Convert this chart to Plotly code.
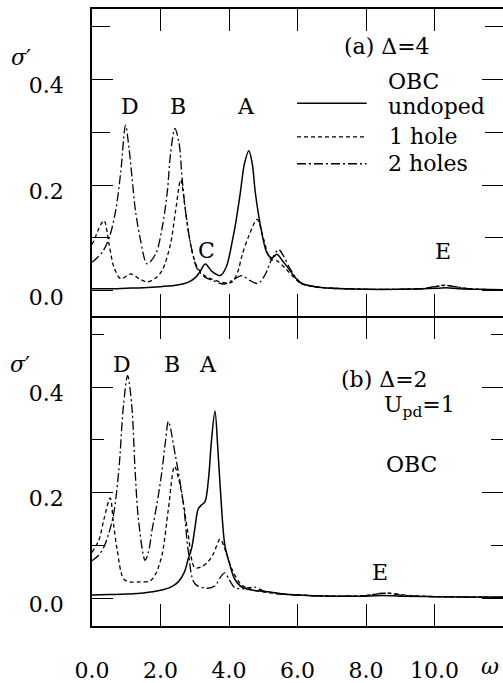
import plotly.graph_objects as go

# ---------------- data ----------------
# panel (a): Delta = 4
a_undoped_x = [0.0, 0.5, 1.0, 1.5, 2.0, 2.5, 2.8, 3.0, 3.15, 3.31, 3.5, 3.75, 3.92, 4.09, 4.2, 4.33, 4.45, 4.58, 4.68, 4.77, 4.92, 5.1, 5.25, 5.4, 5.55, 5.74, 5.95, 6.13, 6.5, 7.0, 8.0, 9.0, 9.7, 10.1, 10.35, 10.7, 11.2, 12.0]
a_undoped_y = [0.004, 0.004, 0.005, 0.006, 0.008, 0.011, 0.016, 0.024, 0.036, 0.051, 0.037, 0.029, 0.045, 0.092, 0.13, 0.185, 0.24, 0.265, 0.24, 0.185, 0.123, 0.073, 0.062, 0.069, 0.058, 0.042, 0.024, 0.014, 0.008, 0.005, 0.003, 0.003, 0.004, 0.005, 0.006, 0.004, 0.003, 0.002]

a_1hole_x = [0.0, 0.06, 0.2, 0.35, 0.5, 0.64, 0.84, 1.13, 1.4, 1.61, 1.85, 2.05, 2.29, 2.44, 2.59, 2.73, 2.88, 3.07, 3.3, 3.51, 3.9, 4.09, 4.25, 4.38, 4.58, 4.82, 5.01, 5.21, 5.4, 5.65, 5.9, 6.1, 6.5, 7.0, 8.0, 9.0, 9.6, 10.0, 10.3, 10.6, 11.0, 12.0]
a_1hole_y = [0.088, 0.095, 0.118, 0.133, 0.088, 0.045, 0.023, 0.032, 0.022, 0.017, 0.024, 0.039, 0.088, 0.151, 0.21, 0.151, 0.088, 0.045, 0.028, 0.022, 0.015, 0.017, 0.035, 0.067, 0.104, 0.135, 0.098, 0.06, 0.057, 0.042, 0.025, 0.014, 0.008, 0.005, 0.003, 0.003, 0.004, 0.008, 0.011, 0.008, 0.004, 0.002]

a_2holes_x = [0.0, 0.3, 0.5, 0.69, 0.84, 0.98, 1.08, 1.17, 1.27, 1.42, 1.61, 1.86, 2.05, 2.2, 2.29, 2.42, 2.54, 2.63, 2.73, 2.88, 3.07, 3.3, 3.51, 3.85, 4.1, 4.37, 4.6, 4.85, 5.05, 5.25, 5.45, 5.6, 5.8, 6.1, 6.5, 7.0, 8.0, 9.0, 9.6, 10.0, 10.3, 10.6, 11.0, 12.0]
a_2holes_y = [0.054, 0.073, 0.1, 0.151, 0.225, 0.313, 0.27, 0.213, 0.151, 0.095, 0.051, 0.07, 0.12, 0.188, 0.257, 0.307, 0.28, 0.213, 0.151, 0.088, 0.042, 0.026, 0.02, 0.013, 0.02, 0.029, 0.02, 0.014, 0.03, 0.06, 0.078, 0.065, 0.04, 0.015, 0.008, 0.005, 0.003, 0.003, 0.004, 0.008, 0.01, 0.008, 0.004, 0.002]

# panel (b): Delta = 2, Upd = 1
b_undoped_x = [0.0, 0.5, 1.0, 1.5, 2.0, 2.3, 2.52, 2.7, 2.81, 2.91, 3.0, 3.1, 3.2, 3.3, 3.4, 3.49, 3.59, 3.67, 3.76, 3.88, 4.03, 4.17, 4.4, 4.8, 5.2, 5.6, 6.0, 7.0, 8.0, 8.5, 9.0, 10.0, 12.0]
b_undoped_y = [0.006, 0.007, 0.008, 0.01, 0.015, 0.021, 0.031, 0.05, 0.075, 0.095, 0.131, 0.169, 0.177, 0.183, 0.225, 0.3, 0.355, 0.288, 0.194, 0.1, 0.062, 0.036, 0.02, 0.014, 0.012, 0.008, 0.006, 0.004, 0.004, 0.005, 0.004, 0.003, 0.002]

b_1hole_x = [0.0, 0.2, 0.35, 0.53, 0.63, 0.73, 0.92, 1.1, 1.4, 1.7, 1.85, 2.04, 2.23, 2.41, 2.55, 2.67, 2.81, 3.0, 3.2, 3.4, 3.55, 3.74, 3.9, 4.08, 4.37, 4.7, 5.0, 5.5, 6.0, 7.0, 8.0, 8.3, 8.6, 8.9, 9.3, 10.0, 12.0]
b_1hole_y = [0.087, 0.11, 0.15, 0.19, 0.14, 0.094, 0.037, 0.031, 0.031, 0.033, 0.045, 0.081, 0.169, 0.25, 0.22, 0.18, 0.12, 0.058, 0.06, 0.07, 0.085, 0.112, 0.09, 0.056, 0.025, 0.016, 0.012, 0.008, 0.006, 0.004, 0.005, 0.008, 0.01, 0.008, 0.005, 0.003, 0.002]

b_2holes_x = [0.0, 0.2, 0.34, 0.5, 0.63, 0.78, 0.92, 1.04, 1.16, 1.26, 1.36, 1.55, 1.65, 1.75, 1.9, 2.04, 2.15, 2.23, 2.43, 2.67, 2.81, 3.0, 3.35, 3.6, 3.75, 3.88, 4.0, 4.17, 4.4, 4.75, 5.0, 5.5, 6.0, 7.0, 8.0, 8.4, 8.7, 9.0, 10.0, 12.0]
b_2holes_y = [0.071, 0.082, 0.096, 0.125, 0.159, 0.24, 0.366, 0.422, 0.366, 0.24, 0.147, 0.072, 0.088, 0.128, 0.18, 0.24, 0.3, 0.335, 0.272, 0.178, 0.09, 0.028, 0.019, 0.024, 0.04, 0.048, 0.036, 0.02, 0.018, 0.021, 0.014, 0.008, 0.006, 0.004, 0.005, 0.009, 0.009, 0.006, 0.003, 0.002]

x_tick_vals = [0, 2, 4, 6, 8, 10]
y_tick_vals = [0.0, 0.2, 0.4]
series_names = ["undoped", "1 hole", "2 holes"]

# ---------------- styles ----------------
FONT = "DejaVu Serif"
FS = 22
dashes = ["solid", "4px,3px", "9px,3px,2px,3px"]
widths = [1.5, 1.3, 1.3]

W, H = 505, 683          # slightly wider than the window: right border falls off-screen
L, R, T, B = 92, 0, 9, 52
PW, PH = W - L - R, H - T - B
GAP = 1.5 / PH           # shared border between the panels drawn as one line


def P(px, py):
    return (px - L) / PW, (H - B - py) / PH


fig = go.Figure()

top = [(a_undoped_x, a_undoped_y), (a_1hole_x, a_1hole_y), (a_2holes_x, a_2holes_y)]
bot = [(b_undoped_x, b_undoped_y), (b_1hole_x, b_1hole_y), (b_2holes_x, b_2holes_y)]

for i, (xs, ys) in enumerate(top):
    fig.add_trace(go.Scatter(x=xs, y=ys, mode="lines", name=series_names[i],
                             line=dict(color="black", width=widths[i], dash=dashes[i],
                                       shape="spline", smoothing=0.9),
                             xaxis="x2", yaxis="y2", showlegend=False))
for i, (xs, ys) in enumerate(bot):
    fig.add_trace(go.Scatter(x=xs, y=ys, mode="lines", name=series_names[i],
                             line=dict(color="black", width=widths[i], dash=dashes[i],
                                       shape="spline", smoothing=0.9),
                             xaxis="x", yaxis="y", showlegend=False))

xcommon = dict(range=[0, 12], tickvals=x_tick_vals, tickformat=".1f", ticks="inside",
               ticklen=22, tickwidth=1.3, tickcolor="black", showline=True,
               linecolor="black", linewidth=1.5, mirror="ticks", showgrid=False,
               zeroline=False, tickfont=dict(family=FONT, size=FS, color="black"))
ycommon = dict(tickvals=y_tick_vals, tickformat=".1f", ticks="inside", ticklen=21,
               tickwidth=1.3, tickcolor="black", showline=True, linecolor="black",
               linewidth=1.5, mirror="ticks", showgrid=False, zeroline=False,
               tickfont=dict(family=FONT, size=FS, color="black"),
               ticklabelstandoff=22, ticklabelshift=6)

fig.update_layout(
    width=W, height=H, margin=dict(l=L, r=R, t=T, b=B),
    paper_bgcolor="white", plot_bgcolor="rgba(0,0,0,0)",
    xaxis=dict(**xcommon, domain=[0, 1], anchor="y", ticklabelstandoff=24),
    xaxis2=dict(**xcommon, domain=[0, 1], anchor="y2", matches="x", showticklabels=False),
    yaxis=dict(**ycommon, domain=[0, 0.5], range=[-0.0526, 0.532], anchor="x",
               minor=dict(dtick=0.1, ticks="inside", ticklen=12, tickwidth=1.3, tickcolor="black")),
    yaxis2=dict(**ycommon, domain=[0.5 + GAP, 1], range=[-0.0475, 0.5327], anchor="x2",
                minor=dict(dtick=0.1, ticks="inside", ticklen=18, tickwidth=1.3, tickcolor="black")),
)

ann = []


def text(s, px, py, xa="center", size=FS):
    x, y = P(px, py)
    ann.append(dict(text=s, x=x, y=y, xref="paper", yref="paper", xanchor=xa,
                    yanchor="middle", showarrow=False,
                    font=dict(family=FONT, size=size, color="black")))


# panel (a) labels
text("<i>σ</i>′", 21, 58)
text("(a) Δ=4", 343, 47, xa="left")
text("OBC", 387, 82, xa="left")
text(series_names[0], 387, 107, xa="left")
text(series_names[1], 388, 138, xa="left")
text(series_names[2], 387, 165, xa="left")
for s, px, py in [("D", 130, 107), ("B", 178, 107), ("A", 247, 107), ("C", 207, 252), ("E", 445, 253)]:
    text(s, px, py)

# panel (b) labels
text("<i>σ</i>′", 20, 367)
text("(b) Δ=2", 340, 383, xa="left")
text("U<sub>pd</sub>=1", 383, 410, xa="left")
text("OBC", 385, 468, xa="left")
for s, px, py in [("D", 122, 367), ("B", 172, 367), ("A", 209, 367), ("E", 381, 577)]:
    text(s, px, py)

text("<i>ω</i>", 481, 672, xa="left")

fig.update_layout(annotations=ann)

# legend samples
shapes = []
for i, py in enumerate([104, 138, 165]):
    x0, y0 = P(298, py)
    x1, _ = P(368, py)
    shapes.append(dict(type="line", xref="paper", yref="paper", x0=x0, x1=x1, y0=y0, y1=y0,
                       line=dict(color="black", width=widths[i], dash=dashes[i])))
fig.update_layout(shapes=shapes)

fig.write_html("out.html", config={"displayModeBar": False},
               post_script="document.body.style.margin='0';document.body.style.overflow='hidden';")
